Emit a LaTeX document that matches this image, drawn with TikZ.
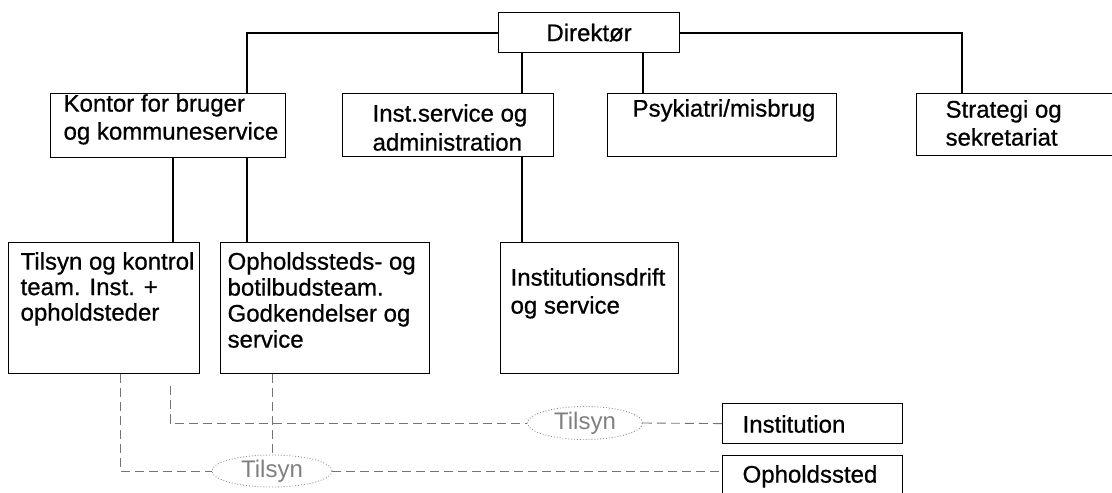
\documentclass[tikz,border=0pt]{standalone}
\usepackage{fontspec}
\setmainfont{Liberation Sans}
\newfontfamily\orgff{Liberation Sans}[FakeBold=0.7]
\usetikzlibrary{calc,shapes.geometric}
\newcommand{\orgfont}{\orgff\fontsize{24}{27}\selectfont}
\newcommand{\tilfont}{\fontsize{24}{27}\selectfont}
% width, height, first baseline from top, left inset, line spacing, text
\newcommand{\bt}[6]{\parbox[c][#2pt][t]{#1pt}{\fontsize{24}{#5}\selectfont\raggedright\leftskip=#4pt\relax\hyphenpenalty=10000\relax
\vspace*{\dimexpr #3pt - 0.7\baselineskip\relax}\strut #6}}
\tikzset{
  orgbox/.style={draw=black, line width=1.2pt, anchor=north west, inner sep=0pt, font=\orgfont},
  conn/.style={draw=black, line width=2pt},
  tline/.style={draw=black!55, line width=0.9pt, dash pattern=on 9pt off 5pt},
  tellipse/.style={ellipse, draw=black!45, dotted, line width=0.9pt, inner sep=0pt, text=black!50, font=\tilfont},
}
\begin{document}
\begin{tikzpicture}[x=1pt,y=-1pt]
\useasboundingbox (0,0) rectangle (1112,493);
\clip (0,0) rectangle (1112,493);
% boxes
\node[orgbox, minimum width=181pt, minimum height=40pt] (dir) at (498,12) {Direktør};
\node[orgbox] (kontor) at (50,93) {\bt{235}{64}{18}{13}{28pt}{Kontor for bruger\\og kommuneservice}};
\node[orgbox] (inst) at (342,93) {\bt{211}{63}{28}{30}{29pt}{Inst.service og\\administration}};
\node[orgbox] (psyk) at (607,93) {\bt{229}{63}{23}{25}{28pt}{Psykiatri/misbrug}};
\node[orgbox] (strat) at (916,93) {\bt{200}{62}{24}{29}{28pt}{Strategi og\\sekretariat}};
\node[orgbox] (tilsyn) at (8,242) {\bt{191}{131}{27}{12}{25.5pt}{Tilsyn og kontrol\\team. Inst. +\\opholdsteder}};
\node[orgbox] (ophold) at (220,242) {\bt{209}{131}{27}{7}{26pt}{Opholdssteds- og\\botilbudsteam.\\Godkendelser og\\service}};
\node[orgbox] (idrift) at (500,242) {\bt{178}{131}{43}{10}{28pt}{Institutionsdrift\\og service}};
\node[orgbox] (instn) at (722,403) {\bt{180}{40}{29}{20}{27pt}{Institution}};
\node[orgbox] (ophs) at (722,455) {\bt{180}{42}{27}{20}{27pt}{Opholdssted}};
% ellipses
\node[tellipse, minimum width=115pt, minimum height=33pt] (ell1) at (585,423) {Tilsyn};
\node[tellipse, minimum width=120pt, minimum height=32pt] (ell2) at (272,471) {Tilsyn};
% solid connectors
\coordinate (k2) at ($(kontor.north west)+(197,0)$);
\coordinate (s1) at ($(strat.north west)+(46,0)$);
\draw[conn] (dir.west) -| (k2);
\draw[conn] (dir.east) -| (s1);
\coordinate (d1) at ($(dir.south west)+(24,0)$);
\coordinate (d2) at ($(dir.south west)+(145,0)$);
\draw[conn] (d1) -- (d1 |- inst.north);
\draw[conn] (d2) -- (d2 |- psyk.north);
\coordinate (ka) at ($(kontor.south west)+(123,0)$);
\coordinate (kb) at ($(kontor.south west)+(197,0)$);
\draw[conn] (ka) -- (ka |- tilsyn.north);
\draw[conn] (kb) -- (kb |- ophold.north);
\coordinate (ia) at ($(inst.south west)+(180,0)$);
\draw[conn] (ia) -- (ia |- idrift.north);
% dashed connectors
\coordinate (t1) at ($(tilsyn.south west)+(112,0)$);
\coordinate (t2) at ($(tilsyn.south west)+(162,12)$);
\draw[tline] (t1) |- (ell2.west);
\draw[tline] (t2) |- (ell1.west);
\draw[tline] (ell2.north |- ophold.south) -- (ell2.north);
\draw[tline] (ell1.east) -- (instn.west);
\draw[tline] (ell2.east) -- (ell2.east -| ophs.west);
\end{tikzpicture}
\end{document}
